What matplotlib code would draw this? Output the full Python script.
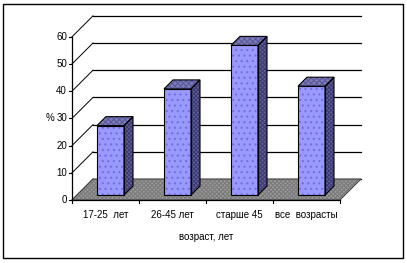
import numpy as np
import matplotlib.pyplot as plt
from matplotlib.patches import Polygon, Rectangle

# данные
categories = ['17-25  лет', '26-45 лет', 'старше 45', 'все  возрасты']
values = [25.5, 39, 55, 40]
yticks = [0, 10, 20, 30, 40, 50, 60]

plt.rcParams['font.family'] = ['Liberation Sans', 'DejaVu Sans']
plt.rcParams['hatch.linewidth'] = 0.8

fig = plt.figure(figsize=(4.07, 2.63), dpi=100)
ax = fig.add_axes([0, 0, 1, 1])
ax.axis('off')

# масштаб: 1 категория = 67 px, 1 % = 2.72 px, начало в (72, 200) px
px_x = 67.0
px_y = 2.72
ax.set_xlim(-72 / px_x, (407 - 72) / px_x)
ax.set_ylim(-(263 - 200) / px_y, 200 / px_y)

# глубина псевдо-3D
dx = 21 / px_x
dy = 21 / px_y
n = len(categories)

# рамка вокруг рисунка
fig.patches.append(Rectangle((3 / 407, 5 / 263), 400 / 407, 254 / 263,
                             transform=fig.transFigure, fill=False,
                             edgecolor='black', lw=1))

# пол
floor = [(0, 0), (dx, dy), (n + dx, dy), (n, 0)]
ax.add_patch(Polygon(floor, facecolor='#9c9c9c', edgecolor='#7a7a7a',
                     hatch='xxxxxxxx', lw=0, zorder=1))
ax.add_patch(Polygon(floor, fill=False, edgecolor='#404040', lw=0.7, zorder=1.1))

# сетка на задней и левой стенке
for v in yticks:
    ax.plot([dx, n + dx], [v + dy, v + dy], color='black', lw=0.9, zorder=0.5)
    ax.plot([0, dx], [v, v + dy], color='black', lw=0.7, zorder=0.5)
    ax.plot([-3 / px_x, 0], [v, v], color='black', lw=0.8, zorder=3)
    ax.text(-5 / px_x, v, str(v), ha='right', va='center', fontsize=7)

ax.text(-22 / px_x, 30, '%', ha='center', va='center', fontsize=7)

# оси
ax.plot([0, 0], [0, yticks[-1]], color='black', lw=0.9, zorder=3)
ax.plot([0, n], [0, 0], color='black', lw=0.9, zorder=3)
for i in range(n + 1):
    ax.plot([i, i], [0, -3 / px_y], color='black', lw=0.8, zorder=3)

# столбцы
w = 27 / px_x
f0, f1 = 5 / 21, 14 / 21
bdx, bdy = (f1 - f0) * dx, (f1 - f0) * dy
for i, v in enumerate(values):
    x0 = i + 0.5 - w / 2 + f0 * dx
    y0 = f0 * dy
    front = [(x0, y0), (x0 + w, y0), (x0 + w, y0 + v), (x0, y0 + v)]
    side = [(x0 + w, y0), (x0 + w + bdx, y0 + bdy),
            (x0 + w + bdx, y0 + v + bdy), (x0 + w, y0 + v)]
    top = [(x0, y0 + v), (x0 + w, y0 + v),
           (x0 + w + bdx, y0 + v + bdy), (x0 + bdx, y0 + v + bdy)]
    for pts, fc, hc, h in [(front, '#9999ff', '#7070e0', '...'),
                           (side, '#62629c', '#3c3c70', 'xxxxxxxx'),
                           (top, '#7c7cbe', '#5a5a98', 'xxxxxx')]:
        ax.add_patch(Polygon(pts, facecolor=fc, edgecolor=hc, hatch=h,
                             lw=0, zorder=4))
        ax.add_patch(Polygon(pts, fill=False, edgecolor='black', lw=0.8,
                             zorder=4.1))

# подписи категорий
for i, c in enumerate(categories):
    ax.text(i + 0.5, -15 / px_y, c, ha='center', va='center', fontsize=7)
ax.text(n / 2, -37 / px_y, 'возраст, лет', ha='center', va='center', fontsize=7)

fig.savefig('out.png', dpi=100)
